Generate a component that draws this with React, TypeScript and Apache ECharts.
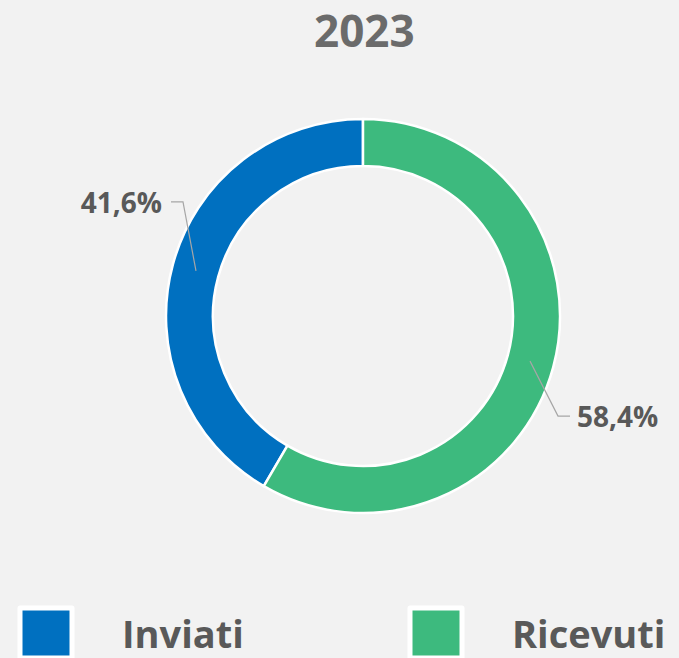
import React, { useEffect, useRef } from 'react';
import * as echarts from 'echarts';

const titleText = '2023';
const categories = ['Inviati', 'Ricevuti'];
const values = [41.6, 58.4];
const colors = ['#0070c0', '#3dba7e'];

const FONT = 'Open Sans';

export default function App() {
  const ref = useRef<HTMLDivElement>(null);
  useEffect(() => {
    document.body.style.margin = '0';
    const chart = echarts.init(ref.current!, null, { renderer: 'svg' });
    const data = categories.map((name, i) => ({ name, value: values[i], itemStyle: { color: colors[i] } }));
    const ghost = categories.map((name, i) => ({ name, value: values[i] }));
    const legendCommon = {
      orient: 'horizontal',
      top: 605.5,
      padding: 0,
      icon: 'rect',
      itemWidth: 52,
      itemHeight: 50,
      itemStyle: { borderColor: '#ffffff', borderWidth: 5 },
      textStyle: {
        fontFamily: FONT,
        fontSize: 38,
        lineHeight: 40,
        fontWeight: 'bold',
        color: '#595959',
        padding: [0, 0, 0, 45],
      },
      selectedMode: false,
    };
    chart.setOption({
      animation: false,
      backgroundColor: '#f2f2f2',
      title: {
        text: titleText,
        left: 314,
        top: 10,
        padding: 0,
        textStyle: { fontFamily: FONT, fontSize: 44, lineHeight: 40, fontWeight: 'bold', color: '#6b6b6b' },
      },
      legend: [
        { ...legendCommon, left: 17.5, data: [categories[0]] },
        { ...legendCommon, left: 407.5, data: [categories[1]] },
      ],
      series: [
        {
          type: 'pie',
          z: 2,
          radius: [150, 197],
          center: [363, 316],
          startAngle: 90,
          clockwise: false,
          silent: true,
          data,
          label: { show: false },
          labelLine: { show: false },
          itemStyle: { borderColor: '#ffffff', borderWidth: 2.5 },
        },
        {
          type: 'pie',
          z: 5,
          radius: [0, 173],
          center: [363, 316],
          startAngle: 90,
          clockwise: false,
          silent: true,
          legendHoverLink: false,
          data: ghost,
          itemStyle: { color: 'rgba(0,0,0,0)', borderWidth: 0 },
          label: {
            show: true,
            fontFamily: FONT,
            fontSize: 28,
            fontWeight: 'bold',
            color: '#595959',
            formatter: (p: any) => p.value.toFixed(1).replace('.', ',') + '%',
          },
          labelLine: { show: true, length: 10, length2: 10, lineStyle: { color: '#a6a6a6', width: 1.2 } },
          labelLayout: (p: any) => {
            const s = p.labelLinePoints && p.labelLinePoints[0];
            if (!s) return {};
            if (p.dataIndex === 0) {
              const e = [s[0] - 13, s[1] - 69];
              const f = [e[0] - 12, e[1]];
              return { x: f[0] - 9, y: f[1], align: 'right', verticalAlign: 'middle', labelLinePoints: [s, e, f] };
            }
            const e = [s[0] + 28, s[1] + 55];
            const f = [e[0] + 12, e[1]];
            return { x: f[0] + 7, y: f[1], align: 'left', verticalAlign: 'middle', labelLinePoints: [s, e, f] };
          },
        },
      ],
    });
    return () => chart.dispose();
  }, []);
  return <div ref={ref} style={{ width: 679, height: 658 }} />;
}
